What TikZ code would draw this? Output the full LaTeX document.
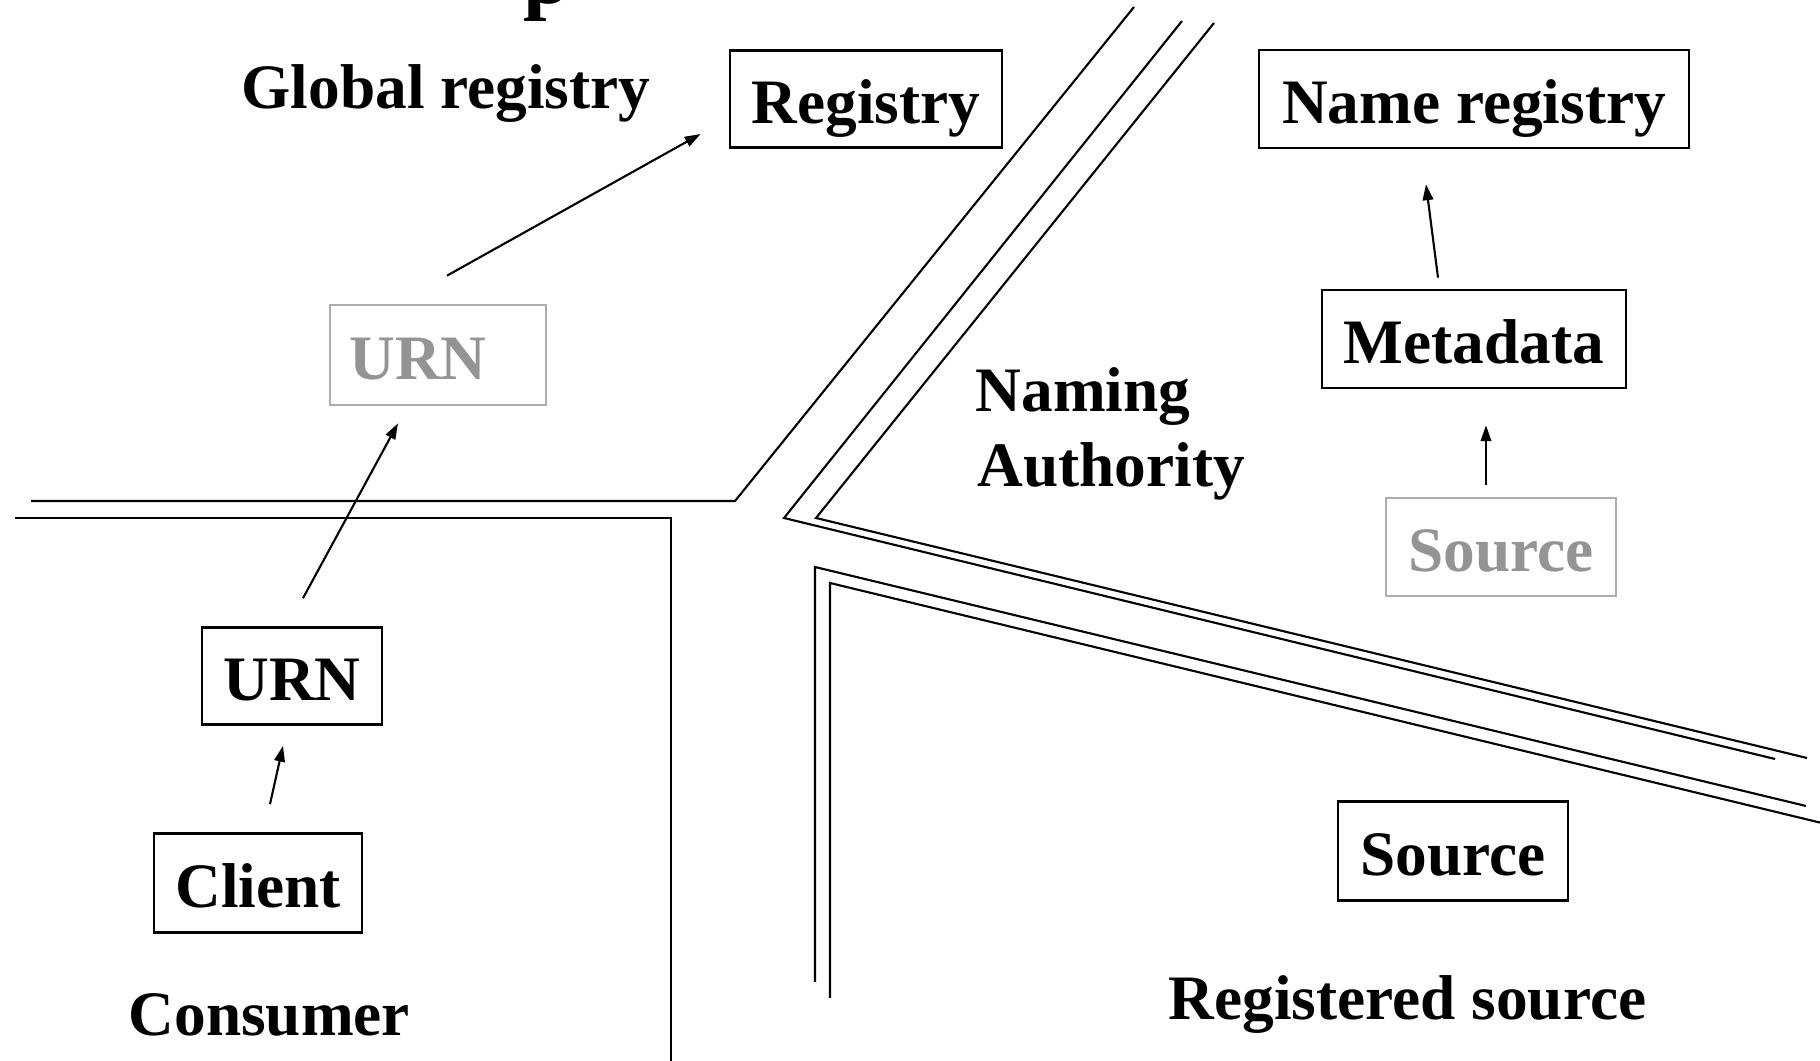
\documentclass[tikz,border=0pt]{standalone}
\usepackage{fontspec}
\setmainfont{Liberation Serif}
\usetikzlibrary{arrows.meta,calc}
\begin{document}
\begin{tikzpicture}[x=0.01cm,y=-0.01cm,
  every node/.style={font=\fontsize{18}{21.6}\selectfont\bfseries},
  box/.style={draw, line width=0.75pt, inner sep=0pt, text height=16pt, text depth=1.8pt},
  ghost/.style={box, draw=black!32, text=black!42},
  lbl/.style={inner sep=0pt, anchor=base west},
  wall/.style={line width=0.6pt, line join=miter},
  arr/.style={line width=0.6pt, -{Triangle[length=4.5pt,width=3pt]}}]
\clip (0,0) rectangle (1820,1061);

% title descender cut by the frame
\node[lbl, font=\fontsize{24}{28}\selectfont\bfseries] (title) at (523,4) {p};

% region labels
\node[lbl] (glob) at (241,109) {Global registry};
\node[lbl] (cons) at (128,1036) {Consumer};
\node[lbl] (naming) at (975,412) {Naming};
\node[lbl] (auth) at (977,487) {Authority};
\node[lbl] (regsrc) at (1168,1019) {Registered source};

% boxes
\node[box, minimum width=2.72cm, minimum height=0.97cm] (registry) at (866,99) {Registry};
\node[box, minimum width=4.30cm, minimum height=0.98cm] (namereg) at (1474,99) {Name registry};
\node[box, minimum width=3.04cm, minimum height=0.98cm] (meta) at (1474,339) {Metadata};
\node[ghost, minimum width=2.30cm, minimum height=0.98cm] (srcg) at (1501,547) {Source};
\node[box, minimum width=2.30cm, minimum height=0.99cm] (src) at (1453,851) {Source};
\node[ghost, minimum width=2.16cm, minimum height=1.00cm] (urng) at (438,355) {URN\kern0.4cm};
\node[box, minimum width=1.80cm, minimum height=0.97cm] (urn) at (292,676) {URN};
\node[box, minimum width=2.08cm, minimum height=0.99cm] (client) at (258,883) {Client};

% region boundaries
\draw[wall] (31,501) -- (735,501) -- (1134,7);
\draw[wall] (15,518) -- (671,518) -- (671,1070);
\draw[wall] (1182,21) -- (784,518) -- (1775,759);
\draw[wall] (1214,23) -- (816,518) -- (1807,758);
\draw[wall] (815,982) -- (815,567) -- (1806,806);
\draw[wall] (830,998) -- (830,583) -- (1830,825);

% flows
\draw[arr] ($(client.north)+(12,-28)$) -- ($(urn.south)+(-9,20)$);
\draw[arr] ($(urn.north)+(11,-28)$) -- ($(urng.south)+(-40,17)$);
\draw[arr] ($(urng.north)+(9,-28)$) -- ($(registry.west)+(-28,35)$);
\draw[arr] ($(srcg.north)+(-15,-12)$) -- ($(meta.south)+(12,36)$);
\draw[arr] ($(meta.north)+(-36,-11)$) -- ($(namereg.south)+(-48,35)$);
\end{tikzpicture}
\end{document}
